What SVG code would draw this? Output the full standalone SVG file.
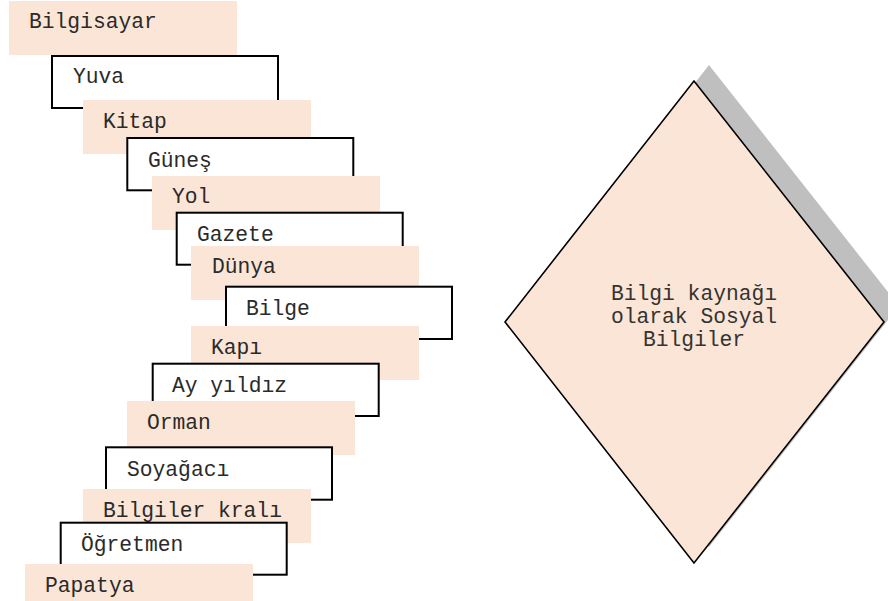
<svg xmlns="http://www.w3.org/2000/svg" width="888" height="601" viewBox="0 0 888 601">
<style>
.f{fill:#FBE5D6;stroke:none}
.o{fill:#FFFFFF;stroke:#000;stroke-width:2}
text{font-family:"Liberation Mono","Courier New",monospace;font-size:21.3px;fill:#2A2A2A}
.c{text-anchor:middle;fill:#333}
</style>
<rect width="888" height="601" fill="#FFFFFF"/>
<g id="n-bilgisayar"><rect class="f" x="9" y="1" width="228" height="54"/><text x="29" y="28">Bilgisayar</text></g>
<g id="n-yuva"><rect class="o" x="52" y="56" width="226" height="52"/><text x="73" y="83">Yuva</text></g>
<g id="n-kitap"><rect class="f" x="83" y="100" width="228" height="54"/><text x="103" y="128">Kitap</text></g>
<g id="n-gunes"><rect class="o" x="127.3" y="138" width="226" height="52.3"/><text x="148" y="167">Güneş</text></g>
<g id="n-yol"><rect class="f" x="152" y="176" width="228" height="54"/><text x="172" y="203">Yol</text></g>
<g id="n-gazete"><rect class="o" x="176.7" y="212.7" width="226" height="52"/><text x="197" y="241">Gazete</text></g>
<g id="n-dunya"><rect class="f" x="191" y="246" width="228" height="54"/><text x="212" y="273">Dünya</text></g>
<g id="n-bilge"><rect class="o" x="226" y="286.7" width="226" height="52.3"/><text x="246" y="315">Bilge</text></g>
<g id="n-kapi"><rect class="f" x="191" y="326" width="228" height="54"/><text x="211" y="354">Kapı</text></g>
<g id="n-ayyildiz"><rect class="o" x="152.7" y="363.7" width="226" height="52.3"/><text x="172" y="392">Ay yıldız</text></g>
<g id="n-orman"><rect class="f" x="127" y="401" width="228" height="54"/><text x="147" y="429">Orman</text></g>
<g id="n-soyagaci"><rect class="o" x="106" y="447.3" width="226" height="52.4"/><text x="127" y="476">Soyağacı</text></g>
<g id="n-bilgilerkrali"><rect class="f" x="83" y="489" width="228" height="54"/><text x="103" y="517">Bilgiler kralı</text></g>
<g id="n-ogretmen"><rect class="o" x="60.7" y="522.7" width="226" height="52"/><text x="81" y="551">Öğretmen</text></g>
<g id="n-papatya"><rect class="f" x="25" y="564" width="228" height="37"/><text x="45" y="592">Papatya</text></g>
<g id="n-diamond">
<polygon points="709,65 899,306 709,547 520,306" fill="#BFBFBF"/>
<polygon points="694,81 884,322 694,563 505,322" fill="#FBE5D6" stroke="#000" stroke-width="1.6"/>
<text class="c" x="694" y="300">Bilgi kaynağı</text>
<text class="c" x="694" y="323">olarak Sosyal</text>
<text class="c" x="694" y="346">Bilgiler</text>
</g>
<g id="connectors"/>
</svg>
